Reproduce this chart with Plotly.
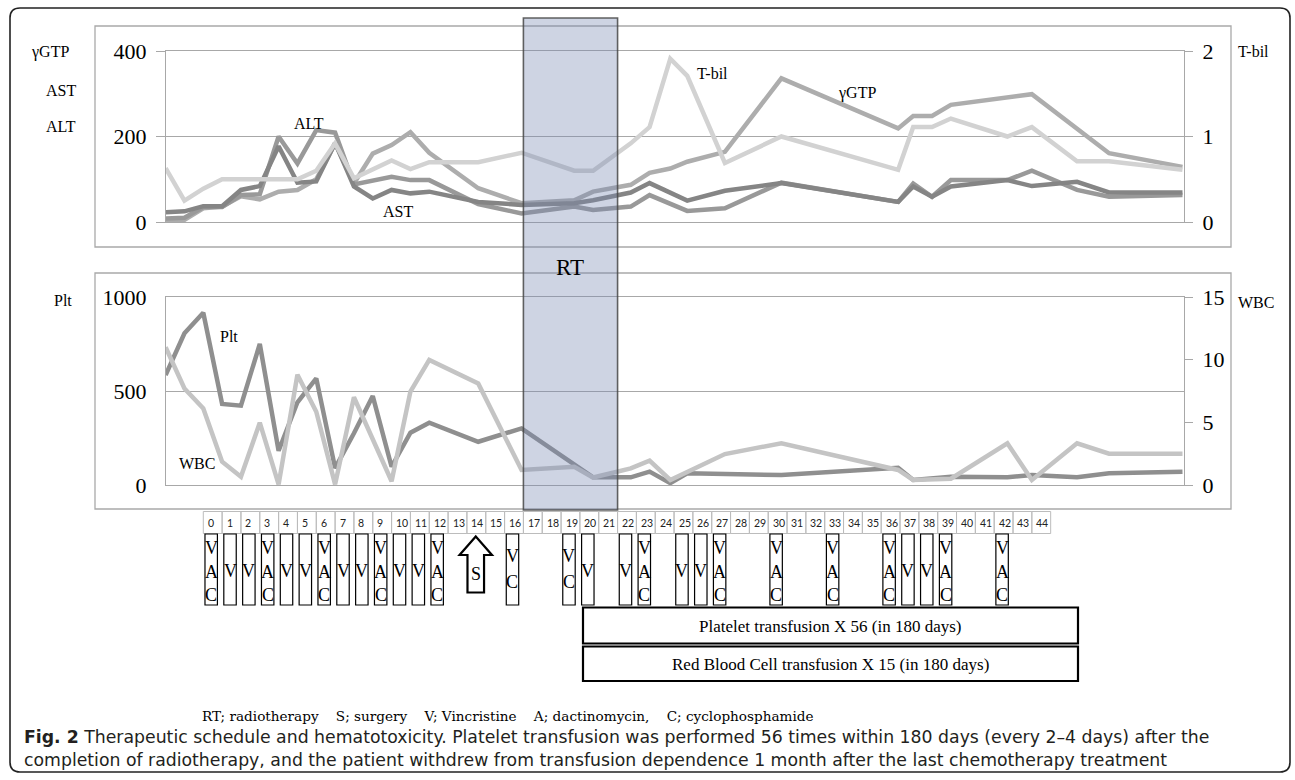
import plotly.graph_objects as go

W, H = 1295, 780

# ---------------- data ----------------
weeks = [-2, -1, 0, 1, 2, 3, 4, 5, 6, 7, 8, 9, 10, 11, 12,
         14.6, 16.9, 19.7, 20.7, 22.7, 23.7, 24.8, 25.7, 27.7, 30.7,
         36.9, 37.7, 38.7, 39.7, 42.7, 44.0, 46.4, 48.1, 52.0]

alt = [8, 10, 35, 35, 63, 65, 200, 137, 215, 209, 88, 97, 106, 98, 98,
       42, 20, 36, 28, 36, 63, None, 26, 32, 92, 47, 90, 59, 98, 98, 120, 75, 59, 63]
ast = [23, 25, 37, 37, 75, 84, 177, 92, 95, 185, 83, 55, 75, 67, 71,
       47, 40, 44, 51, 69, 91, None, 50, 73, 91, 47, 83, 59, 83, 98, 84, 94, 69, 69]
ggtp = [3, 5, 32, 36, 60, 53, 71, 75, 100, 184, 90, 160, 180, 210, 162,
        79, 44, 51, 71, 87, 115, 125, 141, 164, 336, 219, 248, 248, 274, None, 299, None, 161, 129]
tbil = [0.63, 0.25, 0.39, 0.50, 0.50, 0.50, 0.50, 0.50, 0.60, 0.92, 0.51, 0.61, 0.72, 0.62, 0.70,
        0.70, 0.81, 0.60, 0.60, 0.92, 1.11, 1.91, 1.71, 0.69, 1.00, 0.61, 1.11, 1.11, 1.21, 1.00, 1.11, 0.71, 0.71, 0.61]
plt_count = [585, 807, 916, 431, 422, 750, 182, 440, 567, 90, 275, 473, 97, 278, 331,
             230, 301, None, 41, 41, 71, 10, 62, None, 53, 92, 27, None, 44, 41, 53, 41, 62, 71]
wbc = [11.0, 7.7, 6.1, 1.86, 0.66, 4.97, 0.05, 8.8, 5.85, 0.05, 7.0, 3.7, 0.3, 7.45, 9.98,
       8.1, 1.2, 1.46, 0.6, 1.33, 1.94, 0.4, None, 2.47, 3.33, 1.2, 0.4, None, 0.5, 3.33, 0.4, 3.33, 2.5, 2.5]

week_labels = [str(w) for w in range(45)]
rt_weeks = [17, 22]
surgery_week = 14
drug_weeks = [0, 1, 2, 3, 4, 5, 6, 7, 8, 9, 10, 11, 12, 16, 19, 20, 22, 23, 25, 26, 27, 30, 33, 36, 37, 38, 39, 42]
drug_codes = ["VAC", "V", "V", "VAC", "V", "V", "VAC", "V", "V", "VAC", "V", "V", "VAC", "VC", "VC",
              "V", "V", "VAC", "V", "V", "VAC", "VAC", "VAC", "VAC", "V", "V", "VAC", "VAC"]
transfusions = ["Platelet transfusion X 56 (in 180 days)",
                "Red Blood Cell transfusion X 15 (in 180 days)"]
legend_text = ("RT; radiotherapy\u00a0\u00a0\u00a0\u00a0S; surgery\u00a0\u00a0\u00a0\u00a0V; Vincristine"
               "\u00a0\u00a0\u00a0\u00a0A; dactinomycin,\u00a0\u00a0\u00a0\u00a0C; cyclophosphamide")
caption1 = ("<b>Fig. 2</b> Therapeutic schedule and hematotoxicity. Platelet transfusion was performed 56 times "
            "within 180 days (every 2–4 days) after the")
caption2 = ("completion of radiotherapy, and the patient withdrew from transfusion dependence 1 month after "
            "the last chemotherapy treatment")

# ---------------- helpers ----------------
def px(p):
    return p / W


def py(p):
    return 1 - p / H


SERIF = "Liberation Serif"
GRID = "#a8a8a8"
XR = [-1.98, 52.08]
XDOM = [px(166), px(1184)]

fig = go.Figure()

line_w = 4.5
fig.add_trace(go.Scatter(x=weeks, y=tbil, mode="lines", line=dict(color="#d2d2d2", width=line_w),
                         connectgaps=True, xaxis="x", yaxis="y2", name="T-bil"))
fig.add_trace(go.Scatter(x=weeks, y=ggtp, mode="lines", line=dict(color="#adadad", width=line_w),
                         connectgaps=True, xaxis="x", yaxis="y", name="γGTP"))
fig.add_trace(go.Scatter(x=weeks, y=alt, mode="lines", line=dict(color="#999999", width=line_w),
                         connectgaps=True, xaxis="x", yaxis="y", name="ALT"))
fig.add_trace(go.Scatter(x=weeks, y=ast, mode="lines", line=dict(color="#858585", width=line_w),
                         connectgaps=True, xaxis="x", yaxis="y", name="AST"))
fig.add_trace(go.Scatter(x=weeks, y=wbc, mode="lines", line=dict(color="#c4c4c4", width=line_w),
                         connectgaps=True, xaxis="x2", yaxis="y4", name="WBC"))
fig.add_trace(go.Scatter(x=weeks, y=plt_count, mode="lines", line=dict(color="#8f8f8f", width=line_w),
                         connectgaps=True, xaxis="x2", yaxis="y3", name="Plt"))

tickfont = dict(family=SERIF, size=22, color="black")
common_x = dict(domain=XDOM, range=XR, showticklabels=False, showgrid=False, zeroline=False,
                showline=True, mirror=True, linecolor=GRID, linewidth=1.3, ticks="", automargin=False)
ycommon = dict(zeroline=False, showline=True, linecolor=GRID, linewidth=1.3, automargin=False,
               tickfont=tickfont, ticklabelstandoff=5)
fig.update_layout(
    template="none",
    width=W, height=H, autosize=False,
    margin=dict(l=0, r=0, t=0, b=0, pad=0, autoexpand=False),
    paper_bgcolor="white", plot_bgcolor="white", showlegend=False,
    xaxis=dict(anchor="y", **common_x),
    xaxis2=dict(anchor="y3", **common_x),
    yaxis=dict(domain=[py(222), py(51)], range=[0, 400], tickvals=[0, 200, 400], anchor="x",
               showgrid=True, gridcolor=GRID, gridwidth=1.3,
               ticks="outside", ticklen=9, tickcolor=GRID, tickwidth=1.3, **ycommon),
    yaxis2=dict(overlaying="y", side="right", anchor="x", range=[0, 2], tickvals=[0, 1, 2],
                showgrid=False, ticks="outside", ticklen=8, tickcolor=GRID, tickwidth=1.3, **ycommon),
    yaxis3=dict(domain=[py(485), py(297)], range=[0, 1000], tickvals=[0, 500, 1000], anchor="x2",
                showgrid=True, gridcolor=GRID, gridwidth=1.3,
                ticks="outside", ticklen=9, tickcolor="rgba(0,0,0,0)", **ycommon),
    yaxis4=dict(overlaying="y3", side="right", anchor="x2", range=[0, 15], tickvals=[0, 5, 10, 15],
                showgrid=False, ticks="outside", ticklen=8, tickcolor=GRID, tickwidth=1.3, **ycommon),
)

shapes = []
ann = []


def text(t, x, y, xref="paper", xanchor="center", family=SERIF, size=16, color="black"):
    ann.append(dict(text=t, xref=xref, yref="paper", x=x, y=py(y), xanchor=xanchor, yanchor="middle",
                    showarrow=False, font=dict(family=family, size=size, color=color)))


# outer rounded frame
x0, x1, y0, y1, r = 10, 1290, 8, 772, 10
path = (f"M {px(x0 + r)},{py(y0)} L {px(x1 - r)},{py(y0)} Q {px(x1)},{py(y0)} {px(x1)},{py(y0 + r)} "
        f"L {px(x1)},{py(y1 - r)} Q {px(x1)},{py(y1)} {px(x1 - r)},{py(y1)} "
        f"L {px(x0 + r)},{py(y1)} Q {px(x0)},{py(y1)} {px(x0)},{py(y1 - r)} "
        f"L {px(x0)},{py(y0 + r)} Q {px(x0)},{py(y0)} {px(x0 + r)},{py(y0)} Z")
shapes.append(dict(type="path", xref="paper", yref="paper", path=path,
                   line=dict(color="#222222", width=1.6), layer="below"))

# panel frames
for top, bot in [(26, 247), (273, 509)]:
    shapes.append(dict(type="rect", xref="paper", yref="paper", x0=px(95), x1=px(1231),
                       y0=py(bot), y1=py(top), line=dict(color="#a9a9a9", width=1.3), layer="below"))

# RT band
shapes.append(dict(type="rect", xref="x", yref="paper", x0=rt_weeks[0], x1=rt_weeks[1],
                   y0=py(510), y1=py(18), fillcolor="rgba(118,136,178,0.36)",
                   line=dict(color="rgba(70,70,70,0.85)", width=1.6), layer="above"))
text("RT", sum(rt_weeks) / 2, 267, xref="x", size=23)

# week table
for i, lab in enumerate(week_labels):
    shapes.append(dict(type="rect", xref="x", yref="paper", x0=i, x1=i + 1, y0=py(533.5), y1=py(511.5),
                       line=dict(color="#bcbcbc", width=1)))
    text(lab, i + 0.13, 522.5, xref="x", xanchor="left", family="Lato", size=10.5, color="#222")

# drug boxes
letter_rows = {"VAC": [("V", 548), ("A", 572), ("C", 595)],
               "V": [("V", 571)],
               "VC": [("V", 556), ("C", 582)]}
for w, code in zip(drug_weeks, drug_codes):
    c = w + 0.42
    shapes.append(dict(type="rect", xref="x", yref="paper", x0=c - 0.33, x1=c + 0.33,
                       y0=py(605), y1=py(534), line=dict(color="black", width=1.2)))
    for letter, yy in letter_rows[code]:
        text(letter, c, yy, xref="x", size=18)

# surgery arrow
c = surgery_week + 0.47
hw, sw = 0.86, 0.44
arrow = (f"M {c},{py(536.5)} L {c + hw},{py(555)} L {c + sw},{py(555)} L {c + sw},{py(592.5)} "
         f"L {c - sw},{py(592.5)} L {c - sw},{py(555)} L {c - hw},{py(555)} Z")
shapes.append(dict(type="path", xref="x", yref="paper", path=arrow, fillcolor="white",
                   line=dict(color="black", width=2.2)))
text("S", c, 574, xref="x", size=18)

# transfusion boxes
for (top, bot), label in zip([(607.5, 643.5), (646.5, 681)], transfusions):
    shapes.append(dict(type="rect", xref="paper", yref="paper", x0=px(583), x1=px(1078),
                       y0=py(bot), y1=py(top), line=dict(color="black", width=2.2)))
    text(label, px(830), (top + bot) / 2 + 0.5, size=17)

# axis name labels
text("γGTP", px(71), 52, xanchor="right")
text("AST", px(78), 90, xanchor="right")
text("ALT", px(78), 127, xanchor="right")
text("T-bil", px(1236), 52, xanchor="left")
text("Plt", px(74), 300, xanchor="right")
text("WBC", px(1236), 303, xanchor="left")

# series labels inside charts
text("ALT", px(309), 123)
text("AST", px(398), 212)
text("T-bil", px(712), 73)
text("γGTP", px(857), 93)
text("Plt", px(229), 336)
text("WBC", px(197), 463)

# legend and caption
text(legend_text, px(200), 716, xanchor="left", family="DejaVu Serif", size=13.6)
for txt, yy in [(caption1, 737), (caption2, 760)]:
    text(txt, px(22), yy, xanchor="left", family="DejaVu Sans", size=17.3, color="#231f20")

fig.update_layout(shapes=shapes, annotations=ann)
fig.write_html("out.html", config={"displayModeBar": False},
               post_script="document.body.style.margin='0';document.body.style.padding='0';"
                           "document.body.style.overflow='hidden';")
